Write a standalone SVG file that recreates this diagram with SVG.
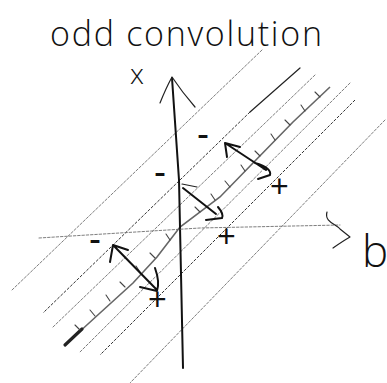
<svg xmlns="http://www.w3.org/2000/svg" width="387" height="383" viewBox="0 0 387 383">
<style>
.hand{font-family:"Open Sans","Liberation Sans",sans-serif;font-weight:300;fill:#111}
.sign{font-family:"Liberation Sans",sans-serif;font-weight:400;fill:#111}
.guide{fill:none;stroke:#6f6f6f;stroke-width:0.9;stroke-dasharray:2.5 1.8;stroke-linecap:round}
.guide-dark{fill:none;stroke:#333;stroke-width:1;stroke-dasharray:3 1.5}
.ink{fill:none;stroke:#111;stroke-width:2;stroke-linecap:round;stroke-linejoin:round}
.thin{fill:none;stroke:#222;stroke-width:1.2;stroke-linecap:round;stroke-linejoin:round}
.tick{fill:none;stroke:#444;stroke-width:1.1;stroke-linecap:round}
</style>
<rect width="387" height="383" fill="#fff"/>
<text id="title" class="hand" x="50" y="46" font-size="34" textLength="272" lengthAdjust="spacing">odd convolution</text>
<g id="guides">
<path class="guide" d="M262,50 L12,290"/>
<path class="thin" d="M300,68 L250,112"/>
<path class="guide-dark" d="M250,112 L43,313"/>
<path class="guide" d="M315,75 L53,327"/>
<path class="guide" d="M350,83 L80,352" stroke="#999"/>
<path class="guide-dark" d="M355,100 L100,355" stroke="#555"/>
<path class="guide" d="M385,120 L130,383"/>
</g>
<g id="center-line">
<path d="M65,345 L100,313 L133,283 L157,257 L180,227 L220,197 L253,163 L293,122 L330,87" fill="none" stroke="#666" stroke-width="1.6"/>
<path d="M65,345 L82,329" fill="none" stroke="#222" stroke-width="3.2" stroke-linecap="round"/>
<path class="tick" d="M80,330 l-5,-5 M95,316 l-5,-6 M110,301 l-4,-6 M125,287 l-5,-5 M140,272 l-4,-6 M155,258 l-5,-5 M170,240 l-4,-6 M200,212 l-5,-5 M215,200 l-4,-6 M230,187 l-5,-6 M245,171 l-4,-6 M260,156 l-5,-5 M275,140 l-4,-6 M290,125 l-5,-5 M305,111 l-4,-6 M320,97 l-5,-5"/>
</g>
<g id="axes">
<path class="ink" d="M172,78 L179,180 L183,368" stroke-width="2.4"/>
<path class="thin" d="M160,103 Q166,88 172,77 Q182,92 195,107" stroke-width="1.6"/>
<path class="guide" d="M39,238 L200,228 L340,225"/>
<path class="thin" d="M327,212 C324,222 336,224 340,229 L350,237 Q343,241 333,248" stroke-width="1.5"/>
</g>
<g id="connectors">
<path class="ink" d="M227,157 L225,143 L240,147 M225,143 L266,170 M255,163 Q272,168 270,175 L258,179"/>
<path class="thin" d="M182,184 L197,187"/>
<path class="ink" d="M183,188 L216,214 M218,207 Q224,214 222,218 L206,220"/>
<path class="ink" d="M110,262 L113,245 L128,250 M113,245 L157,290 M155,268 Q160,282 157,291 L140,287"/>
</g>
<g id="labels">
<text class="hand" x="130" y="84" font-size="28">x</text>
<text class="hand" x="362" y="267" font-size="44">b</text>
<text class="sign" x="197" y="146" font-size="36">-</text>
<text class="sign" x="154" y="184" font-size="36">-</text>
<text class="sign" x="89" y="251" font-size="36">-</text>
<text class="sign" x="270" y="197" font-size="32">+</text>
<text class="sign" x="217" y="247" font-size="32">+</text>
<text class="sign" x="148" y="310" font-size="32">+</text>
</g>
</svg>
